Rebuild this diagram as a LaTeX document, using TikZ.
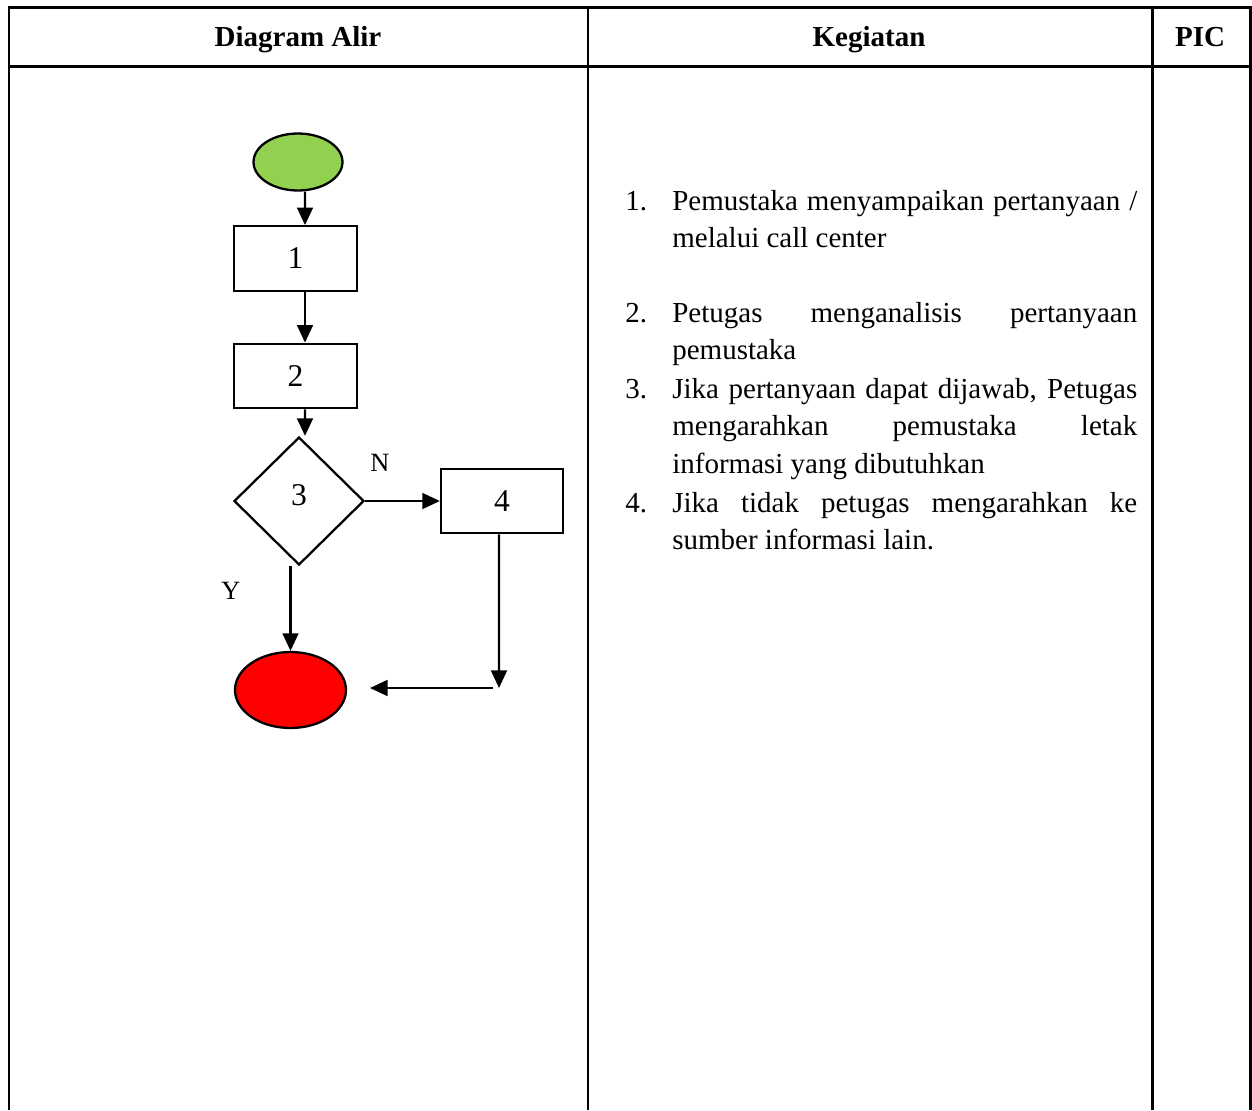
\documentclass[tikz,border=0pt]{standalone}
\usepackage{fontspec}
\setmainfont{Liberation Serif}
\usepackage{tikz}
\usetikzlibrary{shapes.geometric,arrows.meta,calc}
\definecolor{startgreen}{HTML}{92D050}
\definecolor{stopred}{HTML}{FF0000}
\newcommand{\fullline}[1]{\makebox[9.3cm][s]{#1}}
\hyphenpenalty=10000

\begin{document}
\begin{tikzpicture}[x=0.02cm,y=-0.02cm,
    flowline/.style={line width=1.3pt},
    arr/.style={flowline,-{Triangle[length=10pt,width=9pt]}},
    proc/.style={draw,flowline,rectangle,minimum width=2.46cm,minimum height=1.29cm,inner sep=0,font=\fontsize{18}{18}\selectfont},
    term/.style={draw,flowline,ellipse,inner sep=0},
    tabline/.style={line width=1.7pt},
    head/.style={anchor=base,font=\bfseries\fontsize{16.5}{20}\selectfont},
    num/.style={anchor=base west,inner sep=0,font=\fontsize{16.5}{21.6}\selectfont},
    item/.style={anchor=base west,inner sep=0,text width=9.3cm,align=left,font=\fontsize{16.5}{21.6}\selectfont,
      execute at begin node={\spaceskip=0pt\xspaceskip=0pt\relax}}]
          \useasboundingbox (0,0) rectangle (1252,1110);
          % table frame
          \draw[tabline] (9,1110) -- (9,7) -- (1250,7) -- (1250,1110);
          \draw[tabline] (9,66) -- (1250,66);
          \draw[tabline] (588,7) -- (588,1110);
          \draw[tabline] (1152,7) -- (1152,1110);
          \node[head] (hflow) at (298,46) {Diagram Alir};
          \node[head] (hact) at (869,46) {Kegiatan};
          \node[head] (hpic) at (1200,46) {PIC};
          % flow chart
          \node[term,fill=startgreen,minimum width=1.78cm,minimum height=1.14cm] (start) at (298,162) {};
          \node[proc] (b1) at (295.5,258.5) {1};
          \node[proc] (b2) at (295.5,376) {2};
          \node[draw,flowline,diamond,minimum width=2.6cm,minimum height=2.56cm,inner sep=0,text depth=0.24cm,font=\fontsize{18}{18}\selectfont] (d3) at (299,501) {3};
          \node[proc,minimum width=2.44cm] (b4) at (502,501) {4};
          \node[term,fill=stopred,minimum width=2.22cm,minimum height=1.52cm] (stop) at (290.5,690) {};
          \coordinate (bend) at (499,688);
          \coordinate (retA) at (493,688);
          \coordinate (retB) at (370,688);
          \draw[arr] ([xshift=0.14cm]start.south) -- ([xshift=0.19cm]b1.north);
          \draw[arr] ([xshift=0.19cm]b1.south) -- ([xshift=0.19cm]b2.north);
          \draw[arr] ([xshift=0.19cm]b2.south) -- ([xshift=0.12cm]d3.north);
          \draw[arr] (d3.east) -- (b4.west);
          \draw[arr] (d3.south -| stop.north) -- (stop.north);
          \draw[arr] ([xshift=-0.06cm]b4.south) -- (bend);
          \draw[arr] (retA) -- (retB);
          \node[font=\fontsize{15}{15}\selectfont] (lblN) at (380,463) {N};
          \node[font=\fontsize{15}{15}\selectfont] (lblY) at (231,591) {Y};
          % activities
          \node[num] (n1) at (625,210) {1.};
          \node[item] (t1) at (672,210) {\fullline{Pemustaka menyampaikan pertanyaan /}\\melalui call center};
          \node[num] (n2) at (625,322) {2.};
          \node[item] (t2) at (672,322) {\fullline{Petugas menganalisis pertanyaan}\\pemustaka};
          \node[num] (n3) at (625,398) {3.};
          \node[item] (t3) at (672,398) {\fullline{Jika pertanyaan dapat dijawab, Petugas}\\\fullline{mengarahkan pemustaka letak}\\informasi yang dibutuhkan};
          \node[num] (n4) at (625,512) {4.};
          \node[item] (t4) at (672,512) {\fullline{Jika tidak petugas mengarahkan ke}\\sumber informasi lain.};
        \end{tikzpicture}
\end{document}
